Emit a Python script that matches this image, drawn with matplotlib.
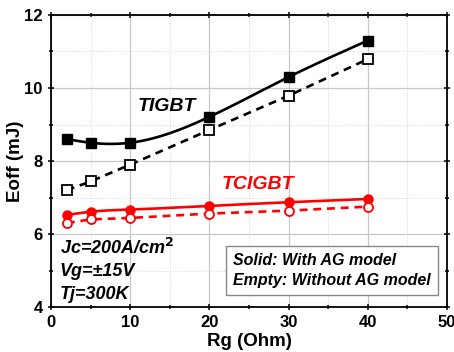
import numpy as np
import matplotlib.pyplot as plt
from matplotlib.ticker import MultipleLocator

# Data
rg = [2, 5, 10, 20, 30, 40]
tigbt_ag = [8.60, 8.50, 8.50, 9.21, 10.30, 11.30]
tigbt_noag = [7.20, 7.44, 7.90, 8.85, 9.79, 10.79]
tcigbt_ag = [6.52, 6.61, 6.67, 6.77, 6.87, 6.96]
tcigbt_noag = [6.30, 6.40, 6.44, 6.56, 6.64, 6.75]


def natural_spline(x, y, n=200):
    # smooth curve through the measured points (natural cubic spline)
    x = np.asarray(x, float)
    y = np.asarray(y, float)
    k = len(x)
    h = np.diff(x)
    A = np.zeros((k, k))
    b = np.zeros(k)
    A[0, 0] = A[-1, -1] = 1
    for i in range(1, k - 1):
        A[i, i - 1] = h[i - 1]
        A[i, i] = 2 * (h[i - 1] + h[i])
        A[i, i + 1] = h[i]
        b[i] = 6 * ((y[i + 1] - y[i]) / h[i] - (y[i] - y[i - 1]) / h[i - 1])
    m = np.linalg.solve(A, b)
    xs = np.linspace(x[0], x[-1], n)
    idx = np.clip(np.searchsorted(x, xs) - 1, 0, k - 2)
    x0, x1 = x[idx], x[idx + 1]
    hh = x1 - x0
    t0, t1 = x1 - xs, xs - x0
    ys = (m[idx] * t0**3 / (6 * hh) + m[idx + 1] * t1**3 / (6 * hh)
          + (y[idx] / hh - m[idx] * hh / 6) * t0
          + (y[idx + 1] / hh - m[idx + 1] * hh / 6) * t1)
    return xs, ys


plt.rcParams['font.family'] = ['Liberation Sans', 'DejaVu Sans']
plt.rcParams['font.weight'] = 'bold'

fig = plt.figure(figsize=(4.54, 3.52), dpi=100)
ax = fig.add_axes([0.1123, 0.1278, 0.8723, 0.8296])

red = '#ff0000'
lw = 1.9
ms = 6.5

# TIGBT
xs, ys = natural_spline(rg, tigbt_ag)
ax.plot(xs, ys, color='black', lw=lw, zorder=3)
ax.plot(rg, tigbt_ag, 's', color='black', ms=ms, zorder=4)
ax.plot(rg, tigbt_noag, '--', color='black', lw=lw, dashes=(3, 2.2),
        marker='s', ms=ms, mfc='white', mec='black', mew=1.3, zorder=4)

# TCIGBT
xs, ys = natural_spline(rg, tcigbt_ag)
ax.plot(xs, ys, color=red, lw=lw, zorder=3)
ax.plot(rg, tcigbt_ag, 'o', color=red, ms=ms, zorder=4)
ax.plot(rg, tcigbt_noag, '--', color=red, lw=lw, dashes=(3, 2.2),
        marker='o', ms=ms, mfc='white', mec=red, mew=1.3, zorder=4)

ax.set_xlim(0, 50)
ax.set_ylim(4, 12)
ax.xaxis.set_major_locator(MultipleLocator(10))
ax.xaxis.set_minor_locator(MultipleLocator(5))
ax.yaxis.set_major_locator(MultipleLocator(2))
ax.yaxis.set_minor_locator(MultipleLocator(1))

ax.grid(which='major', color='#c8c8c8', lw=0.9, ls='-')
ax.grid(which='minor', color='#d8d8d8', lw=0.7, ls=':')
ax.set_axisbelow(True)

for s in ax.spines.values():
    s.set_linewidth(1.3)

ax.tick_params(which='both', width=1.1, labelsize=12)
ax.tick_params(which='major', length=5)
ax.tick_params(which='minor', length=3)
ax.tick_params(which='both', top=True, right=True, labeltop=False,
               labelright=False)
ax.xaxis.set_tick_params(which='both', direction='inout')
ax.yaxis.set_tick_params(which='both', direction='inout')
for lab in ax.get_xticklabels() + ax.get_yticklabels():
    lab.set_fontweight('bold')

ax.set_xlabel('Rg (Ohm)', fontsize=13.5, fontweight='bold', labelpad=2)
ax.set_ylabel('Eoff (mJ)', fontsize=13.5, fontweight='bold', labelpad=0)

ax.text(11.0, 9.48, 'TIGBT', fontsize=14, fontweight='bold', style='italic',
        va='center', ha='left')
ax.text(21.6, 7.37, 'TCIGBT', fontsize=14, fontweight='bold', style='italic',
        va='center', ha='left', color=red)

ax.text(1.1, 5.62, r'Jc=200A/cm$^\mathbf{2}$', fontsize=13, fontweight='bold',
        style='italic', va='center', ha='left')
ax.text(1.1, 4.96, 'Vg=\u00b115V', fontsize=13, fontweight='bold',
        style='italic', va='center', ha='left')
ax.text(1.1, 4.33, 'Tj=300K', fontsize=13, fontweight='bold',
        style='italic', va='center', ha='left')

ax.text(23.0, 5.0, 'Solid: With AG model\nEmpty: Without AG model',
        fontsize=11.5, fontweight='bold', style='italic', va='center',
        ha='left', linespacing=1.35,
        bbox=dict(boxstyle='square,pad=0.45', fc='white', ec='#888888', lw=1))

fig.savefig('out.png', dpi=100)
